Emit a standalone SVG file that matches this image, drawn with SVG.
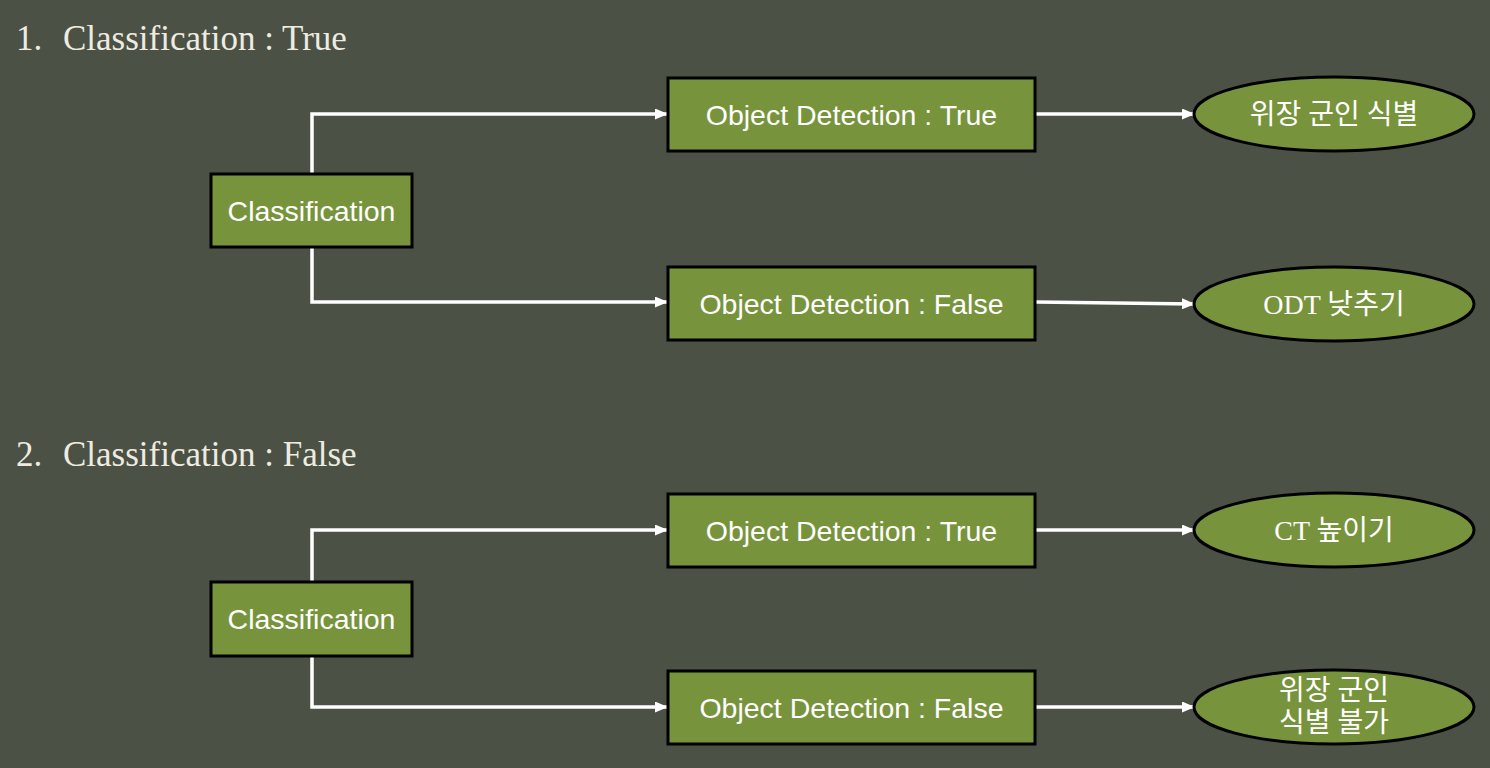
<svg xmlns="http://www.w3.org/2000/svg" width="1490" height="768" viewBox="0 0 1490 768">
<defs>
<marker id="arr" markerWidth="13" markerHeight="11" refX="12" refY="5.5" orient="auto" markerUnits="userSpaceOnUse">
<path d="M0,0 L13,5.5 L0,11 Z" fill="#ffffff"/>
</marker>
<style>
.title{font-family:"Liberation Serif","Noto Sans CJK KR",serif;font-size:35px;fill:#EEECE1}
.box{fill:#77933C;stroke:#000;stroke-width:3}
.btxt{font-family:"Liberation Sans",Arial,sans-serif;font-size:28.5px;fill:#fff;text-anchor:middle;dominant-baseline:central}
.etxt{font-family:"Liberation Serif","Noto Sans CJK KR",serif;font-size:28px;fill:#fff;text-anchor:middle;dominant-baseline:central}
.conn{fill:none;stroke:#fff;stroke-width:3.5;marker-end:url(#arr)}
</style>
</defs>
<rect width="1490" height="768" fill="#4B5144"/>
<text class="title" x="16" y="50">1.</text>
<text class="title" x="63" y="50">Classification : True</text>
<text class="title" x="16" y="466">2.</text>
<text class="title" x="63" y="466">Classification : False</text>

<g id="connectors">
<path class="conn" d="M312,174 V114 H667"/>
<path class="conn" d="M312,247 V302 H667"/>
<path class="conn" d="M1036,114 H1194"/>
<path class="conn" d="M1036,302 L1194,304"/>
<path class="conn" d="M312,581 V530 H667"/>
<path class="conn" d="M312,657 V707 H667"/>
<path class="conn" d="M1036,530 H1194"/>
<path class="conn" d="M1036,707 H1194"/>
</g>

<g id="cls1"><rect class="box" x="211" y="174" width="201" height="73"/><text class="btxt" x="311.5" y="211">Classification</text></g>
<g id="od1t"><rect class="box" x="668" y="78" width="367" height="73"/><text class="btxt" x="851.5" y="115">Object Detection : True</text></g>
<g id="od1f"><rect class="box" x="668" y="267" width="367" height="73"/><text class="btxt" x="851.5" y="304">Object Detection : False</text></g>
<g id="e1t"><ellipse class="box" cx="1334" cy="114" rx="140" ry="37"/><text class="etxt" x="1334" y="114">위장 군인 식별</text></g>
<g id="e1f"><ellipse class="box" cx="1334" cy="304" rx="140" ry="37"/><text class="etxt" x="1334" y="304">ODT 낮추기</text></g>

<g id="cls2"><rect class="box" x="211" y="582" width="201" height="74"/><text class="btxt" x="311.5" y="619">Classification</text></g>
<g id="od2t"><rect class="box" x="668" y="494" width="367" height="73"/><text class="btxt" x="851.5" y="531">Object Detection : True</text></g>
<g id="od2f"><rect class="box" x="668" y="671" width="367" height="73"/><text class="btxt" x="851.5" y="708">Object Detection : False</text></g>
<g id="e2t"><ellipse class="box" cx="1334" cy="530" rx="140" ry="37"/><text class="etxt" x="1334" y="530">CT 높이기</text></g>
<g id="e2f"><ellipse class="box" cx="1334" cy="707" rx="140" ry="37"/><text class="etxt" x="1334" y="690">위장 군인</text><text class="etxt" x="1334" y="722">식별 불가</text></g>
</svg>
